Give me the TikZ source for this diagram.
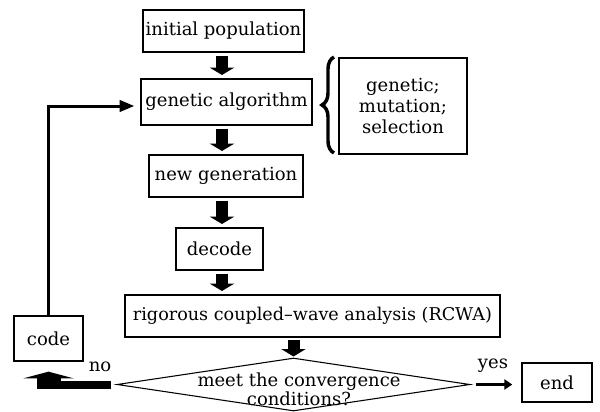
\documentclass[tikz,border=0pt]{standalone}
\usepackage{fontspec}
\setmainfont{DejaVu Serif}
\usetikzlibrary{arrows.meta,shapes.geometric,decorations.pathreplacing,calc}

\begin{document}
\begin{tikzpicture}[x=0.75pt,y=-0.75pt,
  every node/.style={font=\fontsize{13.5}{15.5}\selectfont},
  box/.style={draw,line width=1pt,inner sep=0pt,align=center},
  blockarrow/.style={line width=9pt,-{Triangle[width=18pt,length=5.5pt]},
    shorten <=2.25pt,shorten >=2.5pt},
  thinarrow/.style={line width=2.25pt},
  lbl/.style={inner sep=0pt}]
\useasboundingbox (0,0) rectangle (600,411);

% process boxes
\node[box,minimum width=120.75pt,minimum height=31.5pt] (ip) at (223.5,31) {initial population};
\node[box,minimum width=128.25pt,minimum height=34.5pt] (ga) at (226.5,102) {genetic algorithm};
\node[box,minimum width=96pt,minimum height=72pt,font=\fontsize{13.5}{15.4}\selectfont] (ops) at (403,106) {genetic;\\mutation;\\selection};
\node[box,minimum width=115.5pt,minimum height=31.5pt] (ng) at (226,176) {new generation};
\node[box,minimum width=65.25pt,minimum height=31.5pt] (dec) at (219.5,249) {decode};
\node[box,minimum width=281.25pt,minimum height=31.5pt,font=\fontsize{13.2}{15.5}\selectfont] (rc) at (312.5,316) {rigorous coupled--wave analysis (RCWA)};
\node[box,minimum width=51.75pt,minimum height=33.75pt] (code) at (48.5,338.5) {code};
\node[box,minimum width=52.5pt,minimum height=29.25pt] (end) at (557,382.5) {end};

% decision
\node[diamond,draw,line width=0.8pt,inner sep=0pt,minimum width=264.75pt,minimum height=39.75pt] (dia) at (293.5,384.5) {};
\node[lbl,align=center,font=\fontsize{13.5}{14.25}\selectfont] (cond) at (299,389) {meet the convergence\\conditions?};

% brace grouping the operators
\draw[line width=2.6pt,decorate,decoration={brace,amplitude=9pt}] (334,153) -- (334,57);

% main flow
\coordinate (col) at (222,0);
\draw[blockarrow] (ip.south -| col) -- (ga.north -| col);
\draw[blockarrow] (ga.south -| col) -- (ng.north -| col);
\draw[blockarrow] (ng.south -| col) -- (dec.north -| col);
\draw[blockarrow] (dec.south -| col) -- (rc.north -| col);
\draw[blockarrow,shorten <=1.5pt,shorten >=0.75pt] (rc.south -| dia.north) -- (dia.north);

% yes branch
\draw[thinarrow,-{Triangle[width=7.5pt,length=6pt]}] ([xshift=3.75pt]dia.east) -- ([xshift=-6.75pt]end.west |- dia.east);
\node[lbl] (yes) at (493,366) {yes};

% no branch back to code
\draw[line width=6pt] ([xshift=-3.75pt]dia.west) -- (code.south |- dia.west);
\draw[line width=18pt,-{Triangle[width=37.5pt,length=5pt]}] ($(code.south |- dia.west)+(0,4)$) -- ($(code.south)+(0,10)$);
\node[lbl] (no) at (100,367) {no};

% loop back to the genetic algorithm
\draw[thinarrow,-{Triangle[width=8.5pt,length=11pt]}] (code.north) |- ([shift={(-6,4)}]ga.west);
\end{tikzpicture}
\end{document}
